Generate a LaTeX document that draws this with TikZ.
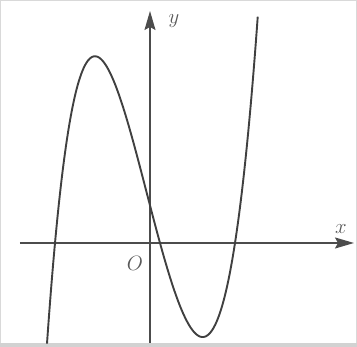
\documentclass[tikz,border=0pt]{standalone}
\usetikzlibrary{arrows.meta}
\begin{document}
\begin{tikzpicture}[x=1pt,y=1pt,
        axis/.style={line width=1.5pt,black!70,-{Stealth[length=19pt,width=11pt,inset=3pt]}},
        curve/.style={line width=1.9pt,black!75,line join=round},
        lbl/.style={black!65,font=\huge}]
        \useasboundingbox (-150,-104) rectangle (207,243);
        \draw [gray!30,line width=1pt] (-149.5,-100) -- (-149.5,242.5) -- (206.5,242.5) -- (206.5,-100);
        \fill [gray!35] (-150,-104) rectangle (207,-100);
        \coordinate (xl) at (-130,0);
        \coordinate (xr) at (204,0);
        \coordinate (yb) at (0,-100);
        \coordinate (yt) at (0,232);
        \draw [axis] (xl) -- (xr);
        \draw [axis] (yb) -- (yt);
        \draw [curve,samples=200,domain=-1.03:1.08] plot ({100*\x},{(\x+0.95)*(\x-0.10)*(\x-0.85)*(465.1-45.96*\x+74.8*\x*\x)});
        \node [lbl] (ylab) at (24,222) {$y$};
        \node [lbl] (xlab) at (191,14) {$x$};
        \node [lbl] (olab) at (-15,-20) {$O$};
    \end{tikzpicture}
\end{document}
